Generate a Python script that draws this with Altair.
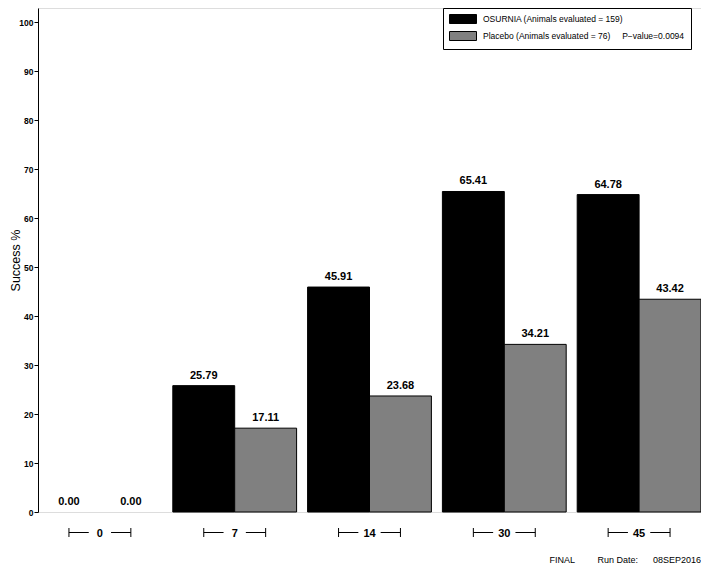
import altair as alt
import pandas as pd

days = ["0", "7", "14", "30", "45"]
osurnia = [0.00, 25.79, 45.91, 65.41, 64.78]
placebo = [0.00, 17.11, 23.68, 34.21, 43.42]
series = [
    "OSURNIA (Animals evaluated = 159)",
    "Placebo (Animals evaluated = 76)\u00a0\u00a0\u00a0\u00a0\u00a0P\u2212value=0.0094\u00a0\u00a0\u00a0\u00a0\u00a0\u00a0\u00a0",
]
colors = ["#000000", "#808080"]
y_ticks = [0, 10, 20, 30, 40, 50, 60, 70, 80, 90, 100]
footer = "FINAL\u00a0\u00a0\u00a0\u00a0\u00a0\u00a0\u00a0\u00a0\u00a0Run Date:\u00a0\u00a0\u00a0\u00a0\u00a0\u00a008SEP2016"

rows = []
for d, a, b in zip(days, osurnia, placebo):
    rows.append({"day": d, "series": series[0], "value": a, "label": f"{a:.2f}"})
    rows.append({"day": d, "series": series[1], "value": b, "label": f"{b:.2f}"})
df = pd.DataFrame(rows)
days_df = pd.DataFrame({"day": days})

W = 663
H = 504
FONT = "Liberation Sans"

xscale = alt.Scale(paddingInner=0.0815, paddingOuter=0)
x_enc = alt.X("day:N", sort=days, scale=xscale, axis=None)
xoff = alt.XOffset("series:N", sort=series, scale=alt.Scale(paddingInner=0, paddingOuter=0))
y_enc = alt.Y(
    "value:Q",
    scale=alt.Scale(domain=[0, 102.86], nice=False, zero=True),
    axis=alt.Axis(
        values=y_ticks,
        title="Success %",
        grid=False,
        tickSize=4,
        tickColor="black",
        domainColor="black",
        labelColor="black",
        labelFont=FONT,
        labelFontSize=8.5,
        labelFontWeight="bold",
        labelPadding=1,
        titleFont=FONT,
        titleFontSize=12.5,
        titleFontWeight="normal",
        titleColor="black",
        titleAngle=-90,
        titleX=-23,
        titleY=H / 2,
        titleAlign="center",
        titleBaseline="middle",
    ),
)

bars = alt.Chart(df).transform_filter("datum.value > 0").mark_bar(
    stroke="black", strokeWidth=1, opacity=1
).encode(
    x=x_enc,
    xOffset=xoff,
    y=y_enc,
    color=alt.Color(
        "series:N",
        sort=series,
        scale=alt.Scale(domain=series, range=colors),
        legend=alt.Legend(
            title=None,
            orient="none",
            legendX=405,
            legendY=0,
            strokeColor="black",
            fillColor="white",
            padding=6,
            symbolType="M-3,-1H3V1H-3Z",
            symbolSize=81,
            symbolOffset=9,
            symbolStrokeColor="black",
            symbolStrokeWidth=1,
            symbolOpacity=1,
            labelFont=FONT,
            labelFontSize=8.5,
            labelColor="black",
            labelOffset=15,
            labelLimit=400,
            rowPadding=3,
        ),
    ),
)

values = alt.Chart(df).mark_text(
    font=FONT, fontSize=11, fontWeight="bold", color="black", baseline="alphabetic", dy=-7
).encode(x=x_enc, xOffset=xoff, y=alt.Y("value:Q"), text="label:N")

xlabels = alt.Chart(days_df).mark_text(
    font=FONT, fontSize=11, fontWeight="bold", color="black", baseline="alphabetic"
).encode(x=alt.X("day:N", sort=days), y=alt.value(H + 25), text="day:N")

rule_style = dict(color="black", strokeWidth=1)
left_h = alt.Chart(days_df).mark_rule(**rule_style).encode(
    x=alt.X("day:N", sort=days, bandPosition=0.25),
    x2=alt.X2("day", bandPosition=0.41),
    y=alt.value(H + 20.5),
)
right_h = alt.Chart(days_df).mark_rule(**rule_style).encode(
    x=alt.X("day:N", sort=days, bandPosition=0.59),
    x2=alt.X2("day", bandPosition=0.75),
    y=alt.value(H + 20.5),
)
left_v = alt.Chart(days_df).mark_rule(**rule_style).encode(
    x=alt.X("day:N", sort=days, bandPosition=0.25),
    y=alt.value(H + 16),
    y2=alt.value(H + 25),
)
right_v = alt.Chart(days_df).mark_rule(**rule_style).encode(
    x=alt.X("day:N", sort=days, bandPosition=0.75),
    y=alt.value(H + 16),
    y2=alt.value(H + 25),
)

foot = alt.Chart(pd.DataFrame({"t": [footer]})).mark_text(
    font=FONT, fontSize=9, color="black", align="right", baseline="alphabetic"
).encode(x=alt.value(W), y=alt.value(H + 51), text="t:N")

chart = (
    alt.layer(bars, values, xlabels, left_h, right_h, left_v, right_v, foot)
    .properties(
        width=W,
        height=H,
        padding={"left": 30, "top": 0, "right": 0, "bottom": 52},
        autosize=alt.AutoSizeParams(type="none"),
    )
    .configure_view(stroke="black", strokeWidth=1)
    .configure(background="white")
)

chart.save("out.html", embed_options={"renderer": "svg", "actions": False})
